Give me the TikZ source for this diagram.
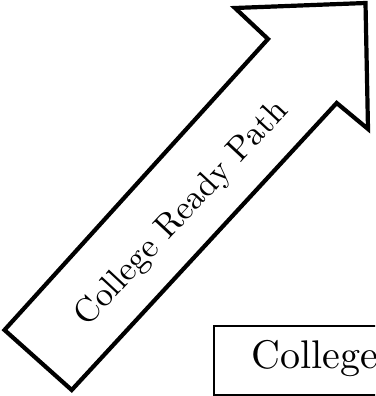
\documentclass[tikz,border=0pt]{standalone}
\usepackage{fontspec}
\setmainfont{lmroman10-regular.otf}
\usepackage{tikz}

\begin{document}
\begin{tikzpicture}[x=1pt,y=-1pt]
	\useasboundingbox (0,0) rectangle (375,396);
	\clip (0,0) rectangle (375,396);
	\draw[line width=4.2pt] (4.5,330) -- (71.7,390) -- (336.7,103) -- (368,129) -- (365.5,3) -- (235,8) -- (268,39) -- cycle;
	\node[rotate=47,font=\fontsize{34}{40}\selectfont] (pathlabel) at (182,214) {College Ready Path};
	\node[draw,line width=2pt,anchor=north west,minimum height=69pt,inner xsep=37.6pt,text width=160pt,text height=28pt,text depth=11.6pt,font=\fontsize{40}{48}\selectfont] (college) at (212.7,325) {College};
\end{tikzpicture}
\end{document}
